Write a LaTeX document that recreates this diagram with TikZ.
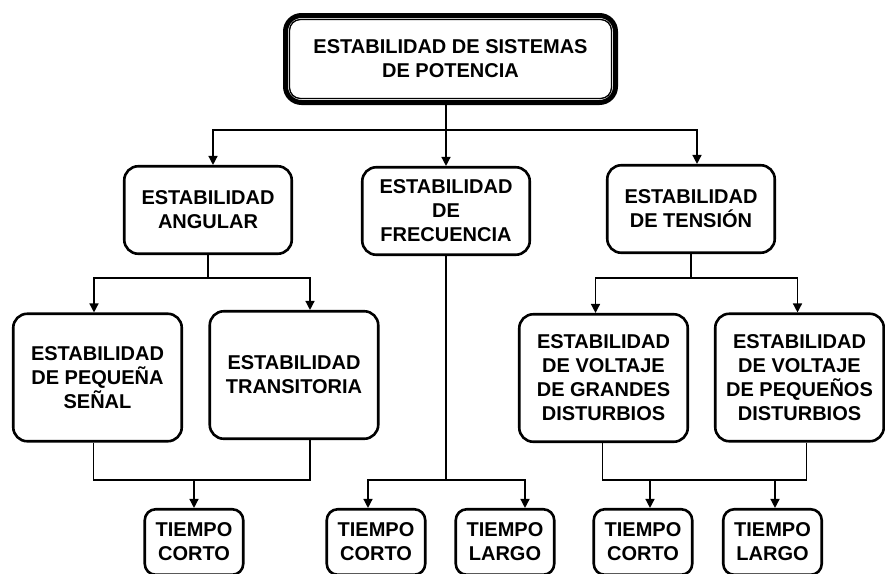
\documentclass[tikz,border=0pt]{standalone}
\usepackage{fontspec}
\setmainfont{Liberation Sans}
\usetikzlibrary{arrows.meta}

\begin{document}
\begin{tikzpicture}[x=1pt,y=-1pt,
    >={Triangle[length=9pt,width=9pt]},
    caja/.style={rectangle,draw,line width=2.6pt,rounded corners=14pt,align=center,inner sep=0pt,font=\fontsize{20}{24}\selectfont\bfseries},
    raiz/.style={caja,line width=5pt,rounded corners=16pt,minimum width=330pt,minimum height=87pt},
    nivel 2/.style={caja,minimum width=167.5pt,minimum height=87.5pt},
    nivel 3/.style={caja,minimum width=168.5pt,minimum height=127.5pt},
    hoja/.style={caja,rounded corners=11pt,minimum width=98.5pt,minimum height=65.5pt}]
    \useasboundingbox (0,0) rectangle (885,573);
    \clip (0,0) rectangle (885,573);
    %
    \node[raiz] (a_1) at (450.5,59) {ESTABILIDAD DE SISTEMAS\\DE POTENCIA};
    \draw[line width=1.3pt,rounded corners=11pt] ([shift={(6.5pt,-6.5pt)}]a_1.north west) rectangle ([shift={(-6.5pt,6.5pt)}]a_1.south east);
    %
    \node[nivel 2] (b_1) at (208,210) {ESTABILIDAD\\ANGULAR};
    \node[nivel 2] (b_2) at (446,211) {ESTABILIDAD\\DE\\FRECUENCIA};
    \node[nivel 2] (b_3) at (691,209) {ESTABILIDAD\\DE TENSIÓN};
    %
    \node[nivel 3] (c_1) at (97.5,377.5) {ESTABILIDAD\\DE PEQUEÑA\\SEÑAL};
    \node[nivel 3] (c_2) at (294,375) {ESTABILIDAD\\TRANSITORIA};
    \node[nivel 3] (c_3) at (603.5,378) {ESTABILIDAD\\DE VOLTAJE\\DE GRANDES\\DISTURBIOS};
    \node[nivel 3] (c_4) at (799.5,377.5) {ESTABILIDAD\\DE VOLTAJE\\DE PEQUEÑOS\\DISTURBIOS};
    %
    \node[hoja] (d_1) at (194,542) {TIEMPO\\CORTO};
    \node[hoja] (d_2) at (376,542) {TIEMPO\\CORTO};
    \node[hoja] (d_3) at (505,542) {TIEMPO\\LARGO};
    \node[hoja] (d_4) at (643,542) {TIEMPO\\CORTO};
    \node[hoja] (d_5) at (772.5,542) {TIEMPO\\LARGO};
    %
    \coordinate (j_1) at (446,130);
    \coordinate (j_2) at (208,278);
    \coordinate (j_3) at (691,278);
    \coordinate (j_4) at (194,480);
    \coordinate (j_5) at (446,480);
    \coordinate (j_6) at (650,480);
    \coordinate (j_7) at (775,480);
    %
    \begin{scope}[line width=1.4pt]
        \draw[->] (a_1.south -| j_1) -- (b_2);
        \draw[->] (j_1) -| ([xshift=5pt]b_1.north);
        \draw[->] (j_1) -| ([xshift=6pt]b_3.north);
        \draw (b_1.south) -- (j_2);
        \draw[->] (j_2) -| ([xshift=-3.5pt]c_1.north);
        \draw[->] (j_2) -| ([xshift=16pt]c_2.north);
        \draw (b_3.south) -- (j_3);
        \draw[->] (j_3) -| ([xshift=-8pt]c_3.north);
        \draw[->] (j_3) -| ([xshift=-2pt]c_4.north);
        \draw ([xshift=-4pt]c_1.south) |- (j_4) -| ([xshift=16pt]c_2.south);
        \draw[->] (j_4) -- (d_1);
        \draw (b_2) -- (j_5);
        \draw[->] (j_5) -| ([xshift=-8pt]d_2.north);
        \draw[->] (j_5) -| ([xshift=20pt]d_3.north);
        \draw ([xshift=-1pt]c_3.south) |- (j_6) -- (j_7) -| ([xshift=7pt]c_4.south);
        \draw[->] (j_6) -- ([xshift=7pt]d_4.north);
        \draw[->] (j_7) -- ([xshift=2.5pt]d_5.north);
    \end{scope}
\end{tikzpicture}
\end{document}
